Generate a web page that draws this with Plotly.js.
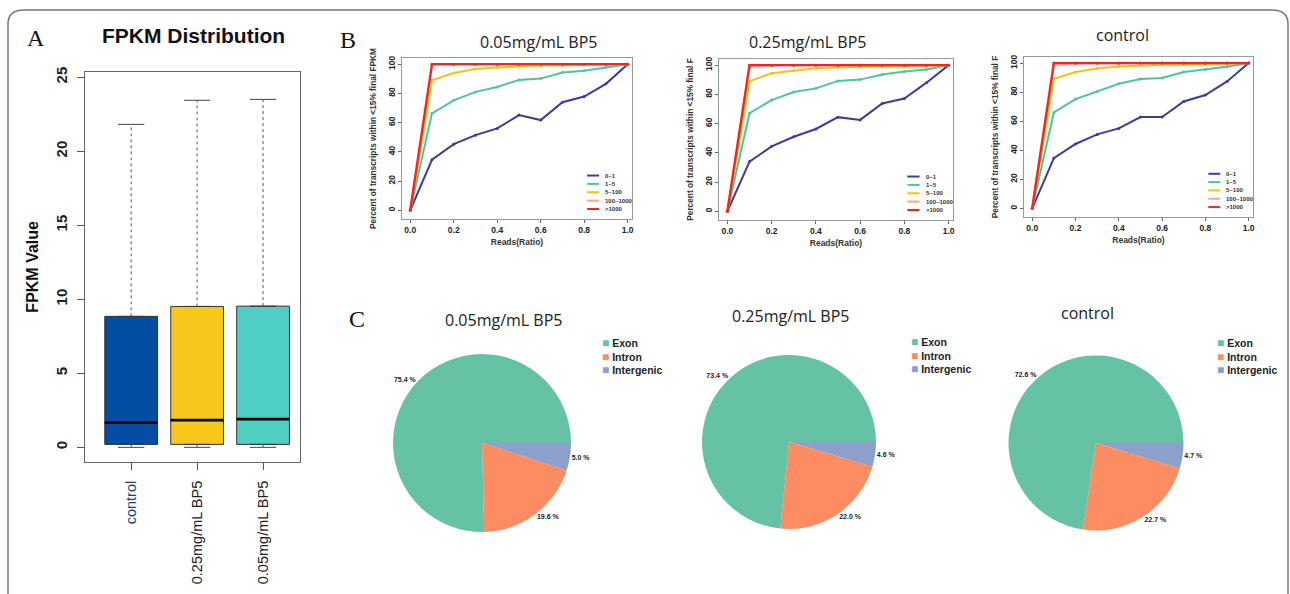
<!DOCTYPE html>
<html>
<head>
<meta charset="utf-8">
<script src="https://cdn.plot.ly/plotly-3.0.1.min.js"></script>
<style>html,body{margin:0;padding:0;background:#fff}#chart{width:1290px;height:594px}</style>
</head>
<body>
<div id="chart"></div>
<script>
// ---------- Panel A: FPKM distribution (box summary values) ----------
const boxCategories = ['control', '0.25mg/mL BP5', '0.05mg/mL BP5'];
const boxLower  = [0.0, 0.0, 0.0];
const boxQ1     = [0.2, 0.2, 0.2];
const boxMedian = [1.66, 1.84, 1.91];
const boxQ3     = [8.85, 9.52, 9.54];
const boxUpper  = [21.82, 23.45, 23.51];
const boxColors = ['#034ea2', '#f7c81b', '#4fcfc4'];
const boxYTicks = [0, 5, 10, 15, 20, 25];

// ---------- Panel B: saturation curves ----------
const readsRatio = [0, 0.1, 0.2, 0.3, 0.4, 0.5, 0.6, 0.7, 0.8, 0.9, 1.0];
const rangeNames = ['0~1', '1~5', '5~100', '100~1000', '>1000'];
const rangeColors = ['#3c3d96', '#52c49c', '#f2c412', '#f7a890', '#f42424'];

const bp005_0_1      = [0, 34.6, 45.2, 51.4, 56.0, 65.1, 61.7, 73.9, 77.8, 86.5, 100];
const bp005_1_5      = [0, 66.3, 75.2, 81.0, 84.4, 89.2, 90.1, 94.3, 95.4, 97.7, 100];
const bp005_5_100    = [0, 89.0, 94.0, 96.6, 97.7, 98.6, 99.0, 99.3, 99.5, 99.7, 100];
const bp005_100_1000 = [0, 99.4, 99.7, 99.8, 99.9, 99.9, 100, 100, 100, 100, 100];
const bp005_1000     = [0, 100, 100, 100, 100, 100, 100, 100, 100, 100, 100];

const bp025_0_1      = [0, 34.0, 44.4, 51.0, 56.3, 64.4, 62.5, 73.8, 77.2, 88.0, 100];
const bp025_1_5      = [0, 67.1, 76.1, 81.6, 84.1, 89.2, 90.1, 93.6, 95.6, 97.0, 100];
const bp025_5_100    = [0, 89.0, 94.5, 96.3, 97.9, 98.5, 98.8, 99.1, 99.3, 99.5, 100];
const bp025_100_1000 = [0, 98.4, 99.7, 99.8, 99.9, 99.9, 100, 100, 100, 100, 100];
const bp025_1000     = [0, 100, 100, 100, 100, 100, 100, 100, 100, 100, 100];

const ctrl_0_1      = [0, 34.6, 44.3, 50.9, 55.0, 62.8, 62.8, 73.6, 78.0, 87.4, 100];
const ctrl_1_5      = [0, 66.0, 75.2, 80.3, 85.8, 89.0, 89.7, 93.8, 95.4, 97.5, 100];
const ctrl_5_100    = [0, 89.2, 93.8, 96.3, 97.7, 98.4, 98.8, 99.1, 99.3, 99.5, 100];
const ctrl_100_1000 = [0, 98.5, 99.7, 99.8, 99.9, 99.9, 100, 100, 100, 100, 100];
const ctrl_1000     = [0, 100, 100, 100, 100, 100, 100, 100, 100, 100, 100];

const satTitles = ['0.05mg/mL BP5', '0.25mg/mL BP5', 'control'];
const satYTitles = ['Percent of transcripts within <15% final FPKM',
                    'Percent of transcripts within <15% final F',
                    'Percent of transcripts within <15% final F'];
const satXTitle = 'Reads(Ratio)';
const satXTicks = [0, 0.2, 0.4, 0.6, 0.8, 1.0];
const satYTicks = [0, 20, 40, 60, 80, 100];

// ---------- Panel C: region distribution ----------
const pieLabels = ['Exon', 'Intron', 'Intergenic'];
const pieColors = ['#66c2a5', '#fc8d62', '#8da0cb'];
const pie005  = [75.4, 19.6, 5.0];
const pie025  = [73.4, 22.0, 4.6];
const pieCtrl = [72.6, 22.7, 4.7];
const pieTitles = ['0.05mg/mL BP5', '0.25mg/mL BP5', 'control'];

// ---------- helpers ----------
const W = 1290, H = 594;
const px = x => x / W;
const py = y => 1 - y / H;
const SANS = 'Liberation Sans, Arial, sans-serif';
const SERIF = 'Liberation Serif, Times New Roman, serif';
const TITLEF = 'Open Sans, Noto Sans, sans-serif';

const traces = [];

// Panel A boxes
for (let i = 0; i < boxCategories.length; i++) {
  const xi = i + 1;
  traces.push({
    type: 'box', x: [xi], q1: [boxQ1[i]], median: [boxMedian[i]], q3: [boxQ3[i]],
    lowerfence: [boxQ1[i]], upperfence: [boxQ3[i]], width: 0.8,
    fillcolor: boxColors[i], line: {color: '#333', width: 1}, boxpoints: false,
    xaxis: 'x', yaxis: 'y', showlegend: false, hoverinfo: 'skip'
  });
  traces.push({type: 'scatter', mode: 'lines', x: [xi - 0.4, xi + 0.4], y: [boxMedian[i], boxMedian[i]],
    line: {color: '#000', width: 2.6}, xaxis: 'x', yaxis: 'y', showlegend: false, hoverinfo: 'skip'});
  traces.push({type: 'scatter', mode: 'lines', x: [xi, xi], y: [boxQ3[i], boxUpper[i]],
    line: {color: '#555', width: 1, dash: 'dot'}, xaxis: 'x', yaxis: 'y', showlegend: false, hoverinfo: 'skip'});
  traces.push({type: 'scatter', mode: 'lines', x: [xi, xi], y: [boxLower[i], boxQ1[i]],
    line: {color: '#555', width: 1, dash: 'dot'}, xaxis: 'x', yaxis: 'y', showlegend: false, hoverinfo: 'skip'});
  traces.push({type: 'scatter', mode: 'lines', x: [xi - 0.2, xi + 0.2], y: [boxUpper[i], boxUpper[i]],
    line: {color: '#444', width: 1}, xaxis: 'x', yaxis: 'y', showlegend: false, hoverinfo: 'skip'});
  traces.push({type: 'scatter', mode: 'lines', x: [xi - 0.2, xi + 0.2], y: [boxLower[i], boxLower[i]],
    line: {color: '#444', width: 1}, xaxis: 'x', yaxis: 'y', showlegend: false, hoverinfo: 'skip'});
}

// Panel B curves
const satSeries = [
  [bp005_0_1, bp005_1_5, bp005_5_100, bp005_100_1000, bp005_1000],
  [bp025_0_1, bp025_1_5, bp025_5_100, bp025_100_1000, bp025_1000],
  [ctrl_0_1, ctrl_1_5, ctrl_5_100, ctrl_100_1000, ctrl_1000]
];
const satWidths = [2, 2, 2, 1.4, 2.4];
satSeries.forEach((group, g) => {
  const ax = g + 2;
  group.forEach((ys, s) => {
    traces.push({
      type: 'scatter', mode: 'lines+markers', x: readsRatio, y: ys, name: rangeNames[s],
      line: {color: rangeColors[s], width: satWidths[s]},
      marker: {color: rangeColors[s], size: 3},
      xaxis: 'x' + ax, yaxis: 'y' + ax, showlegend: false, hoverinfo: 'skip'
    });
  });
});

// Panel C pies (drawn clockwise from 3 o'clock: Intergenic, Intron, Exon)
const pieDomains = [
  {x: [px(393), px(571)], y: [py(532), py(354)]},
  {x: [px(702), px(876)], y: [py(529), py(355)]},
  {x: [px(1008.5), px(1183.5)], y: [py(530.5), py(355.5)]}
];
[pie005, pie025, pieCtrl].forEach((vals, k) => {
  traces.push({
    type: 'pie', labels: pieLabels.slice().reverse(), values: vals.slice().reverse(), sort: false,
    direction: 'clockwise', rotation: 90,
    marker: {colors: pieColors.slice().reverse(), line: {width: 0}},
    textposition: 'outside', texttemplate: '%{value:.1f} %',
    outsidetextfont: {family: SANS, size: 7, color: '#222', weight: 'bold'},
    domain: pieDomains[k], showlegend: false, hoverinfo: 'skip', automargin: false
  });
});

// ---------- layout ----------
const satDomains = [
  {x: [px(402), px(632)], y: [py(219), py(58)]},
  {x: [px(719), px(953)], y: [py(220), py(59)]},
  {x: [px(1024), px(1253)], y: [py(217), py(57)]}
];

const layout = {
  width: W, height: H,
  margin: {l: 0, r: 0, t: 0, b: 0},
  paper_bgcolor: '#fff', plot_bgcolor: '#fff',
  showlegend: false,
  font: {family: SANS, color: '#222'},
  xaxis: {
    domain: [px(85), px(300)], range: [0.3, 3.56], anchor: 'y',
    tickvals: [1, 2, 3],
    ticktext: boxCategories.map((c, i) => i === 0 ? '<span style="color:#1d3f7a">' + c + '</span>' : c),
    tickangle: -90, ticks: 'outside', ticklen: 7, tickcolor: '#555',
    showline: true, mirror: true, linecolor: '#666', linewidth: 1,
    showgrid: false, zeroline: false, automargin: false, ticklabelstandoff: 5,
    tickfont: {family: SANS, size: 14.5, color: '#222'}
  },
  yaxis: {
    domain: [py(462), py(71.7)], range: [-0.99, 25.38], anchor: 'x',
    tickvals: boxYTicks, tickangle: -90, ticks: 'outside', ticklen: 7, tickcolor: '#555',
    showline: true, mirror: true, linecolor: '#666', linewidth: 1,
    showgrid: false, zeroline: false, automargin: false, ticklabelstandoff: 4,
    tickfont: {family: SANS, size: 15, color: '#222', weight: 'bold'},
    title: {text: 'FPKM Value', standoff: 10, font: {family: SANS, size: 16, color: '#111', weight: 'bold'}}
  },
  shapes: [],
  annotations: []
};

satDomains.forEach((d, g) => {
  const ax = g + 2;
  layout['xaxis' + ax] = {
    domain: d.x, range: [-0.038, 1.02], anchor: 'y' + ax,
    tickvals: satXTicks, ticktext: satXTicks.map(v => v.toFixed(1)),
    ticks: 'outside', ticklen: 3, tickcolor: '#666',
    showline: true, mirror: true, linecolor: '#999', linewidth: 1,
    showgrid: false, zeroline: false, automargin: false, ticklabelstandoff: 0,
    tickfont: {family: SANS, size: 8.5, color: '#222', weight: 'bold'},
    title: {text: satXTitle, standoff: 4, font: {family: SANS, size: 8.5, color: '#333', weight: 'bold'}}
  };
  layout['yaxis' + ax] = {
    domain: d.y, range: [-6, 104.2], anchor: 'x' + ax,
    tickvals: satYTicks, tickangle: -90,
    ticks: 'outside', ticklen: 3, tickcolor: '#666',
    showline: true, mirror: true, linecolor: '#999', linewidth: 1,
    showgrid: false, zeroline: false, automargin: false, ticklabelstandoff: 0,
    tickfont: {family: SANS, size: 8.5, color: '#222', weight: 'bold'},
    title: {text: satYTitles[g], standoff: 8, font: {family: SANS, size: 8.3, color: '#333', weight: 'bold'}}
  };
  const rows = [0.27, 0.218, 0.166, 0.114, 0.062];
  rangeNames.forEach((nm, s) => {
    layout.shapes.push({
      type: 'line', xref: 'x' + ax + ' domain', yref: 'y' + ax + ' domain',
      x0: 0.805, x1: 0.857, y0: rows[s], y1: rows[s],
      line: {color: rangeColors[s], width: 2}
    });
    layout.annotations.push({
      xref: 'x' + ax + ' domain', yref: 'y' + ax + ' domain', x: 0.875, y: rows[s],
      xanchor: 'left', yanchor: 'middle', showarrow: false, text: nm,
      font: {family: SANS, size: 6, color: '#333', weight: 'bold'}
    });
  });
});

// outer rounded frame
const framePts = (() => {
  const L = px(8), R = px(1288), T = py(10), B = py(600);
  const rx = px(16), ry = 14 / H;
  return `M ${L},${B} L ${L},${T - ry} Q ${L},${T} ${L + rx},${T} L ${R - rx},${T} Q ${R},${T} ${R},${T - ry} L ${R},${B}`;
})();
layout.shapes.push({type: 'path', xref: 'paper', yref: 'paper', path: framePts,
  line: {color: '#777', width: 1.5}, layer: 'below'});

const ann = (x, y, text, font, extra) => layout.annotations.push(Object.assign({
  xref: 'paper', yref: 'paper', x: px(x), y: py(y), text: text, showarrow: false,
  xanchor: 'center', yanchor: 'middle', font: font}, extra || {}));

ann(36, 38, 'A', {family: SERIF, size: 24, color: '#111'});
ann(348, 40, 'B', {family: SERIF, size: 24, color: '#111'});
ann(357, 319, 'C', {family: SERIF, size: 24, color: '#111'});
ann(193, 36, 'FPKM Distribution', {family: SANS, size: 21, color: '#111', weight: 'bold'});

const satTitlePos = [[538, 42], [807, 42], [1122, 35]];
satTitles.forEach((t, i) => ann(satTitlePos[i][0], satTitlePos[i][1], t, {family: TITLEF, size: 16, color: '#222'}));

const pieTitlePos = [[503, 320], [790, 316], [1087, 313]];
pieTitles.forEach((t, i) => ann(pieTitlePos[i][0], pieTitlePos[i][1], t, {family: TITLEF, size: 16, color: '#222'}));

const pieLegendPos = [[600, 356], [909, 355], [1215, 356]];
pieLegendPos.forEach(p => {
  const txt = pieLabels.map((l, j) => '<span style="color:' + pieColors[j] + ';font-size:12px">■</span> ' + l).join('<br>');
  ann(p[0], p[1], txt, {family: SANS, size: 10.5, color: '#222', weight: 'bold'}, {xanchor: 'left', align: 'left'});
});

Plotly.newPlot('chart', traces, layout, {staticPlot: true, displayModeBar: false});
</script>
</body>
</html>
